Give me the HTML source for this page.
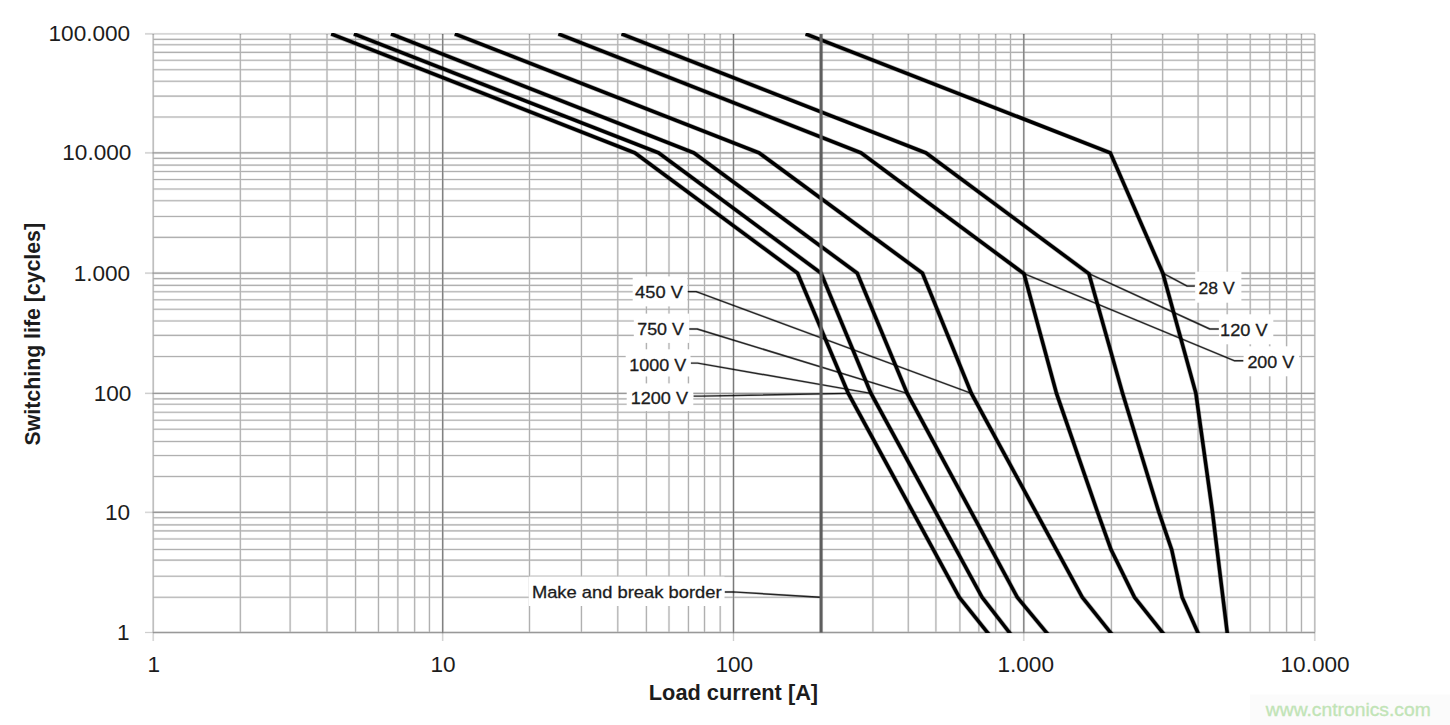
<!DOCTYPE html>
<html><head><meta charset="utf-8"><title>Switching life chart</title>
<style>html,body{margin:0;padding:0;background:#fff;}body{width:1450px;height:725px;overflow:hidden;font-family:"Liberation Sans",sans-serif;}svg{display:block;}text{font-family:"Liberation Sans",sans-serif;}</style>
</head><body>
<svg width="1450" height="725" viewBox="0 0 1450 725">
<defs><clipPath id="plot"><rect x="151.20" y="33.00" width="1165.60" height="600.00"/></clipPath></defs>
<rect x="0" y="0" width="1450" height="725" fill="#ffffff"/>
<g id="grid" fill="none" stroke="#000000">
<g opacity="0.07"><path d="M153.20 597.32L1314.80 597.32M153.20 576.20L1314.80 576.20M153.20 560.13L1314.80 560.13M153.20 549.48L1314.80 549.48M153.20 538.97L1314.80 538.97M153.20 530.92L1314.80 530.92M153.20 524.90L1314.80 524.90M153.20 517.80L1314.80 517.80M153.20 476.51L1314.80 476.51M153.20 455.57L1314.80 455.57M153.20 441.52L1314.80 441.52M153.20 429.19L1314.80 429.19M153.20 420.18L1314.80 420.18M153.20 412.32L1314.80 412.32M153.20 404.22L1314.80 404.22M153.20 398.84L1314.80 398.84M153.20 356.54L1314.80 356.54M153.20 335.40L1314.80 335.40M153.20 320.97L1314.80 320.97M153.20 309.31L1314.80 309.31M153.20 299.79L1314.80 299.79M153.20 291.73L1314.80 291.73M153.20 285.41L1314.80 285.41M153.20 278.60L1314.80 278.60M153.20 237.40L1314.80 237.40M153.20 216.43L1314.80 216.43M153.20 200.70L1314.80 200.70M153.20 189.05L1314.80 189.05M153.20 179.53L1314.80 179.53M153.20 171.48L1314.80 171.48M153.20 165.10L1314.80 165.10M153.20 158.35L1314.80 158.35M153.20 117.04L1314.80 117.04M153.20 96.10L1314.80 96.10M153.20 81.23L1314.80 81.23M153.20 69.71L1314.80 69.71M153.20 60.29L1314.80 60.29M153.20 52.33L1314.80 52.33M153.20 44.73L1314.80 44.73M153.20 39.34L1314.80 39.34M240.35 33.90L240.35 632.50M290.13 33.90L290.13 632.50M327.00 33.90L327.00 632.50M355.55 33.90L355.55 632.50M378.47 33.90L378.47 632.50M397.86 33.90L397.86 632.50M414.64 33.90L414.64 632.50M429.45 33.90L429.45 632.50M529.49 33.90L529.49 632.50M581.45 33.90L581.45 632.50M617.78 33.90L617.78 632.50M646.41 33.90L646.41 632.50M668.99 33.90L668.99 632.50M688.45 33.90L688.45 632.50M704.52 33.90L704.52 632.50M720.19 33.90L720.19 632.50M820.89 33.90L820.89 632.50M872.91 33.90L872.91 632.50M908.28 33.90L908.28 632.50M935.91 33.90L935.91 632.50M959.90 33.90L959.90 632.50M978.83 33.90L978.83 632.50M995.67 33.90L995.67 632.50M1010.52 33.90L1010.52 632.50M1111.40 33.90L1111.40 632.50M1162.64 33.90L1162.64 632.50M1198.10 33.90L1198.10 632.50M1227.20 33.90L1227.20 632.50M1250.24 33.90L1250.24 632.50M1269.72 33.90L1269.72 632.50M1286.60 33.90L1286.60 632.50M1301.48 33.90L1301.48 632.50M153.20 33.90L153.20 632.50M1314.80 33.90L1314.80 632.50" stroke-width="2.3"/><path d="M153.20 632.50L1314.80 632.50M153.20 512.30L1314.80 512.30M153.20 393.40L1314.80 393.40M153.20 273.10L1314.80 273.10M153.20 152.85L1314.80 152.85M442.70 33.90L442.70 632.50M733.50 33.90L733.50 632.50M1023.80 33.90L1023.80 632.50" stroke-width="2.7"/></g>
<g opacity="0.25"><path d="M153.20 597.32L1314.80 597.32M153.20 576.20L1314.80 576.20M153.20 560.13L1314.80 560.13M153.20 549.48L1314.80 549.48M153.20 538.97L1314.80 538.97M153.20 530.92L1314.80 530.92M153.20 524.90L1314.80 524.90M153.20 517.80L1314.80 517.80M153.20 476.51L1314.80 476.51M153.20 455.57L1314.80 455.57M153.20 441.52L1314.80 441.52M153.20 429.19L1314.80 429.19M153.20 420.18L1314.80 420.18M153.20 412.32L1314.80 412.32M153.20 404.22L1314.80 404.22M153.20 398.84L1314.80 398.84M153.20 356.54L1314.80 356.54M153.20 335.40L1314.80 335.40M153.20 320.97L1314.80 320.97M153.20 309.31L1314.80 309.31M153.20 299.79L1314.80 299.79M153.20 291.73L1314.80 291.73M153.20 285.41L1314.80 285.41M153.20 278.60L1314.80 278.60M153.20 237.40L1314.80 237.40M153.20 216.43L1314.80 216.43M153.20 200.70L1314.80 200.70M153.20 189.05L1314.80 189.05M153.20 179.53L1314.80 179.53M153.20 171.48L1314.80 171.48M153.20 165.10L1314.80 165.10M153.20 158.35L1314.80 158.35M153.20 117.04L1314.80 117.04M153.20 96.10L1314.80 96.10M153.20 81.23L1314.80 81.23M153.20 69.71L1314.80 69.71M153.20 60.29L1314.80 60.29M153.20 52.33L1314.80 52.33M153.20 44.73L1314.80 44.73M153.20 39.34L1314.80 39.34M240.35 33.90L240.35 632.50M290.13 33.90L290.13 632.50M327.00 33.90L327.00 632.50M355.55 33.90L355.55 632.50M378.47 33.90L378.47 632.50M397.86 33.90L397.86 632.50M414.64 33.90L414.64 632.50M429.45 33.90L429.45 632.50M529.49 33.90L529.49 632.50M581.45 33.90L581.45 632.50M617.78 33.90L617.78 632.50M646.41 33.90L646.41 632.50M668.99 33.90L668.99 632.50M688.45 33.90L688.45 632.50M704.52 33.90L704.52 632.50M720.19 33.90L720.19 632.50M820.89 33.90L820.89 632.50M872.91 33.90L872.91 632.50M908.28 33.90L908.28 632.50M935.91 33.90L935.91 632.50M959.90 33.90L959.90 632.50M978.83 33.90L978.83 632.50M995.67 33.90L995.67 632.50M1010.52 33.90L1010.52 632.50M1111.40 33.90L1111.40 632.50M1162.64 33.90L1162.64 632.50M1198.10 33.90L1198.10 632.50M1227.20 33.90L1227.20 632.50M1250.24 33.90L1250.24 632.50M1269.72 33.90L1269.72 632.50M1286.60 33.90L1286.60 632.50M1301.48 33.90L1301.48 632.50M153.20 33.90L153.20 632.50M1314.80 33.90L1314.80 632.50" stroke-width="1.1"/><path d="M153.20 632.50L1314.80 632.50M153.20 512.30L1314.80 512.30M153.20 393.40L1314.80 393.40M153.20 273.10L1314.80 273.10M153.20 152.85L1314.80 152.85M442.70 33.90L442.70 632.50M733.50 33.90L733.50 632.50M1023.80 33.90L1023.80 632.50" stroke-width="1.4"/></g>
<g opacity="0.13"><path d="M153.20 632.50L1314.80 632.50M153.20 512.30L1314.80 512.30M153.20 393.40L1314.80 393.40M153.20 273.10L1314.80 273.10M153.20 152.85L1314.80 152.85M442.70 33.90L442.70 632.50M733.50 33.90L733.50 632.50M1023.80 33.90L1023.80 632.50" stroke-width="1.2"/></g>
<g opacity="0.20"><path d="M442.70 33.90L442.70 632.50M733.50 33.90L733.50 632.50M1023.80 33.90L1023.80 632.50" stroke-width="1.1"/></g>
<g opacity="0.05"><path d="M145.00 632.50L153.20 632.50M145.00 512.30L153.20 512.30M145.00 393.40L153.20 393.40M145.00 273.10L153.20 273.10M145.00 152.85L153.20 152.85M153.20 33.90L1314.80 33.90M145.00 33.90L153.20 33.90M153.20 632.50L153.20 641.00M442.70 632.50L442.70 641.00M733.50 632.50L733.50 641.00M1023.80 632.50L1023.80 641.00M1314.80 632.50L1314.80 641.00" stroke-width="2.2"/></g>
<g opacity="0.15"><path d="M145.00 632.50L153.20 632.50M145.00 512.30L153.20 512.30M145.00 393.40L153.20 393.40M145.00 273.10L153.20 273.10M145.00 152.85L153.20 152.85M153.20 33.90L1314.80 33.90M145.00 33.90L153.20 33.90M153.20 632.50L153.20 641.00M442.70 632.50L442.70 641.00M733.50 632.50L733.50 641.00M1023.80 632.50L1023.80 641.00M1314.80 632.50L1314.80 641.00" stroke-width="1.1"/></g>
</g>
<g id="boxes" fill="#ffffff">
<rect x="632.7" y="276.4" width="54.6" height="30.0"/>
<rect x="633.8" y="313.6" width="55.4" height="29.3"/>
<rect x="625.7" y="349.3" width="64.8" height="27.2"/>
<rect x="626.7" y="383.4" width="66.6" height="27.6"/>
<rect x="1195.2" y="271.7" width="46.2" height="31.0"/>
<rect x="1219.1" y="314.3" width="54.2" height="30.0"/>
<rect x="1243.6" y="346.3" width="55.5" height="30.0"/>
<rect x="528.8" y="576.6" width="195.7" height="29.4"/>
</g>
<g id="curves" fill="none" stroke="#000000" stroke-linejoin="miter" stroke-linecap="butt" clip-path="url(#plot)">
<path d="M331.2 33.9L634.8 152.8L797.5 273.1L848.3 393.4L959.3 597.3L987.5 632.5L995.0 641.9M353.9 33.9L658.6 152.8L821.0 273.1L871.0 393.4L982.1 597.3L1009.4 632.5L1016.8 642.0M391.0 33.9L693.8 152.8L857.2 273.1L907.2 393.4L1017.3 597.3L1046.5 632.5L1054.2 641.7M454.8 33.9L759.0 152.8L922.4 273.1L971.4 393.4L1082.3 597.3L1110.5 632.5L1118.0 641.9M558.4 33.9L861.0 152.8L1024.0 273.7L1056.5 393.4L1097.6 512.3L1111.0 549.6L1134.5 597.3L1162.5 632.5L1170.0 641.9M621.5 33.9L925.9 152.8L1088.9 273.7L1122.6 393.4L1158.9 512.3L1171.7 549.6L1182.1 597.3L1197.8 632.5L1202.7 643.5M805.6 33.9L1110.3 152.8L1162.8 273.1L1195.9 393.4L1212.5 512.3L1227.2 632.5L1228.7 644.4" stroke-width="4.8" stroke-opacity="0.3"/>
<path d="M331.2 33.9L634.8 152.8L797.5 273.1L848.3 393.4L959.3 597.3L987.5 632.5L995.0 641.9M353.9 33.9L658.6 152.8L821.0 273.1L871.0 393.4L982.1 597.3L1009.4 632.5L1016.8 642.0M391.0 33.9L693.8 152.8L857.2 273.1L907.2 393.4L1017.3 597.3L1046.5 632.5L1054.2 641.7M454.8 33.9L759.0 152.8L922.4 273.1L971.4 393.4L1082.3 597.3L1110.5 632.5L1118.0 641.9M558.4 33.9L861.0 152.8L1024.0 273.7L1056.5 393.4L1097.6 512.3L1111.0 549.6L1134.5 597.3L1162.5 632.5L1170.0 641.9M621.5 33.9L925.9 152.8L1088.9 273.7L1122.6 393.4L1158.9 512.3L1171.7 549.6L1182.1 597.3L1197.8 632.5L1202.7 643.5M805.6 33.9L1110.3 152.8L1162.8 273.1L1195.9 393.4L1212.5 512.3L1227.2 632.5L1228.7 644.4" stroke-width="3.5"/>
</g>
<g id="leaders" fill="none" stroke="#000000" stroke-linejoin="round">
<path d="M687.9 291.6L696.2 291.6L971.4 393.4M689.3 329.0L697.2 329.0L907.2 393.4M690.9 363.1L697.6 363.1L871.0 393.4M693.6 396.1L701.0 396.1L848.3 393.4M1194.8 286.1L1187.2 286.1L1162.8 273.1M1218.8 329.0L1209.8 329.0L1088.9 273.7M1243.3 360.8L1234.7 360.8L1024.0 273.7M724.8 591.9L732.5 591.9L820.3 597.2" stroke-width="2.5" stroke-opacity="0.16"/>
<path d="M687.9 291.6L696.2 291.6L971.4 393.4M689.3 329.0L697.2 329.0L907.2 393.4M690.9 363.1L697.6 363.1L871.0 393.4M693.6 396.1L701.0 396.1L848.3 393.4M1194.8 286.1L1187.2 286.1L1162.8 273.1M1218.8 329.0L1209.8 329.0L1088.9 273.7M1243.3 360.8L1234.7 360.8L1024.0 273.7M724.8 591.9L732.5 591.9L820.3 597.2" stroke-width="1.45" stroke-opacity="0.82"/>
</g>
<line x1="821.10" y1="33.90" x2="821.10" y2="632.50" stroke="#5a5a5a" stroke-width="4.0" stroke-opacity="0.28"/>
<line x1="821.10" y1="33.90" x2="821.10" y2="632.50" stroke="#5e5e5e" stroke-width="2.8"/>
<g id="labels" fill="#1c1c1c">
<text x="130.2" y="41.3" font-size="22.6" text-anchor="end">100.000</text>
<text x="131.4" y="160.2" font-size="22.6" text-anchor="end">10.000</text>
<text x="130.2" y="280.5" font-size="22.6" text-anchor="end">1.000</text>
<text x="131.4" y="400.8" font-size="22.6" text-anchor="end">100</text>
<text x="130.2" y="519.7" font-size="22.6" text-anchor="end">10</text>
<text x="129.6" y="639.9" font-size="22.6" text-anchor="end">1</text>
<text x="153.9" y="671.8" font-size="22.6" text-anchor="middle">1</text>
<text x="443.0" y="671.8" font-size="22.6" text-anchor="middle">10</text>
<text x="734.3" y="671.8" font-size="22.6" text-anchor="middle">100</text>
<text x="1025.7" y="671.8" font-size="22.6" text-anchor="middle">1.000</text>
<text x="1315.1" y="671.8" font-size="22.6" text-anchor="middle">10.000</text>
<text x="635.10" y="297.5" font-size="17.4" textLength="47.77" lengthAdjust="spacingAndGlyphs" stroke="#1c1c1c" stroke-width="0.3" xml:space="preserve">450 V</text>
<text x="637.20" y="334.9" font-size="17.4" textLength="46.77" lengthAdjust="spacingAndGlyphs" stroke="#1c1c1c" stroke-width="0.3" xml:space="preserve">750 V</text>
<text x="629.37" y="371.0" font-size="17.4" textLength="56.80" lengthAdjust="spacingAndGlyphs" stroke="#1c1c1c" stroke-width="0.3" xml:space="preserve">1000 V</text>
<text x="630.77" y="403.7" font-size="17.4" textLength="57.20" lengthAdjust="spacingAndGlyphs" stroke="#1c1c1c" stroke-width="0.3" xml:space="preserve">1200 V</text>
<text x="1198.60" y="294.0" font-size="17.4" textLength="36.07" lengthAdjust="spacingAndGlyphs" stroke="#1c1c1c" stroke-width="0.3" xml:space="preserve">28 V</text>
<text x="1220.07" y="336.3" font-size="17.4" textLength="47.50" lengthAdjust="spacingAndGlyphs" stroke="#1c1c1c" stroke-width="0.3" xml:space="preserve">120 V</text>
<text x="1247.40" y="368.3" font-size="17.4" textLength="46.77" lengthAdjust="spacingAndGlyphs" stroke="#1c1c1c" stroke-width="0.3" xml:space="preserve">200 V</text>
<text x="531.90" y="597.8" font-size="17.4" textLength="189.68" lengthAdjust="spacingAndGlyphs" stroke="#1c1c1c" stroke-width="0.3" xml:space="preserve">Make and break border</text>
<text x="733.45" y="700.3" font-size="21.2" font-weight="bold" text-anchor="middle" textLength="169.3" lengthAdjust="spacingAndGlyphs">Load current [A]</text>
<text transform="translate(40.0,334.2) rotate(-90)" font-size="21.2" font-weight="bold" text-anchor="middle" textLength="222.4" lengthAdjust="spacingAndGlyphs">Switching life [cycles]</text>
</g>
<rect x="1250" y="694.5" width="200" height="30.5" fill="#fbfbfb"/>
<text x="1265.8" y="715.8" font-size="19.2" fill="#c1e4b6" stroke="#c1e4b6" stroke-width="0.35" textLength="165" lengthAdjust="spacingAndGlyphs">www.cntronics.com</text>
</svg>
</body></html>
